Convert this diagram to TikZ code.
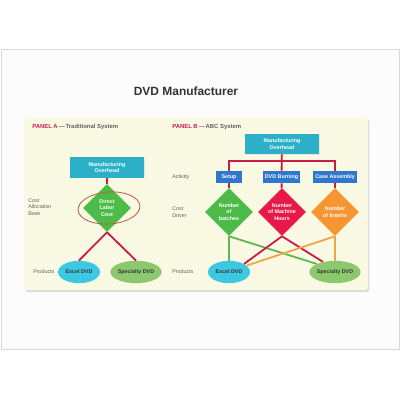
\documentclass[tikz,border=0pt]{standalone}
\usepackage{fontspec}
\setmainfont{Liberation Sans}
\usetikzlibrary{shapes}
\usetikzlibrary{shapes.geometric}
\usetikzlibrary{positioning}
\usetikzlibrary{shadows}
\definecolor{ohteal}{RGB}{44,176,200}
\definecolor{actblue}{RGB}{47,118,205}
\definecolor{dgreen}{RGB}{76,187,71}
\definecolor{dred}{RGB}{232,24,72}
\definecolor{dorange}{RGB}{245,150,50}
\definecolor{pcyan}{RGB}{60,200,225}
\definecolor{pgreen}{RGB}{140,200,110}
\definecolor{linered}{RGB}{200,30,70}
\definecolor{linegreen}{RGB}{95,185,80}
\definecolor{lineorange}{RGB}{240,165,75}
\definecolor{panelbg}{RGB}{250,250,228}
\definecolor{slidebg}{RGB}{252,252,252}
\definecolor{txtgray}{RGB}{95,95,95}
\definecolor{ringbrown}{RGB}{185,95,70}
\newcommand{\smallfont}{\fontsize{3.8}{4.6}\selectfont}
\tikzset{
    mybox/.style = {rectangle, fill=ohteal, text=white, align=center, inner sep=0pt, minimum width=1.85cm, minimum height=0.5cm, font=\smallfont\bfseries, drop shadow={opacity=0.15, shadow xshift=0.4pt, shadow yshift=-0.4pt}},
    myact/.style = {rectangle, fill=actblue, text=white, align=center, inner sep=0pt, minimum height=0.3cm, font=\smallfont\bfseries},
    mydiamg/.style = {diamond, aspect=1, fill=dgreen, text=white, align=center, inner sep=0pt, minimum size=1.2cm, font=\smallfont\bfseries},
    mydiamr/.style = {mydiamg, fill=dred},
    mydiamo/.style = {mydiamg, fill=dorange},
    myprodc/.style = {ellipse, fill=pcyan, text=black!80, inner sep=0pt, minimum width=1.05cm, minimum height=0.56cm, font=\smallfont\bfseries},
    myprodg/.style = {myprodc, fill=pgreen},
    mylabel/.style = {anchor=west, align=left, inner sep=0pt, text=txtgray, font=\smallfont},
    mypanel/.style = {anchor=west, inner sep=0pt, text=txtgray, font=\fontsize{4.2}{5}\selectfont\bfseries},
    edger/.style = {-, line width=1.3pt, linered},
    edgeg/.style = {-, line width=1.3pt, linegreen},
    edgeo/.style = {-, line width=1.3pt, lineorange},
}
\begin{document}
\begin{tikzpicture}[x=0.025cm,y=-0.025cm]
\path[use as bounding box] (0,0) rectangle (400,400);
% slide and panel
\draw[fill=slidebg, draw=black!15, line width=0.6pt] (1,49) rectangle (399,349);
\fill[panelbg, rounded corners=2pt, drop shadow={opacity=0.25, shadow xshift=1pt, shadow yshift=-1.5pt}] (24,117) rectangle (368,290);
\node[font=\fontsize{8.5}{10}\selectfont\bfseries, text=black!80] (title) at (186,91) {DVD Manufacturer};
\node[mypanel] (pa) at (32,127) {\textcolor{linered}{PANEL A}\,---\,Traditional System};
\node[mypanel] (pb) at (172,127) {\textcolor{linered}{PANEL B}\,---\,ABC System};
%
% panel A
\node[mybox] (moa) at (107,167.5) {Manufacturing\\Overhead};
\node[mydiamg] (dlc) at (107,208) {Direct\\Labor\\Cost};
\node[myprodc] (exa) at (79,272) {Excel DVD};
\node[myprodg] (spa) at (136,272) {Specialty DVD};
\node[mylabel] (cab) at (28,207) {Cost\\Allocation\\Base};
\node[mylabel] (pra) at (33,272) {Products};
%
\draw[edger] (moa) -- (dlc);
\draw[edger] (dlc.south) -- (exa.north);
\draw[edger] (dlc.south) -- (spa.north);
\draw[ringbrown, line width=0.6pt, rotate around={4:(109,208)}] (109,208) ellipse (31 and 16);
%
% panel B
\node[mybox] (mob) at (282,144) {Manufacturing\\Overhead};
\coordinate (bus) at (282,161);
\node[myact, minimum width=0.65cm] (setup) at (229,177) {Setup};
\node[myact, minimum width=0.925cm] (burn) at (281.5,177) {DVD Burning};
\node[myact, minimum width=1.1cm] (case) at (335,177) {Case Assembly};
\node[mydiamg] (nb) at (229,212) {Number\\of\\batches};
\node[mydiamr] (mh) at (282,212) {Number\\of Machine\\Hours};
\node[mydiamo] (ni) at (335,212) {Number\\of Inserts};
\node[myprodc] (exb) at (229,272) {Excel DVD};
\node[myprodg] (spb) at (335,272) {Specialty DVD};
\node[mylabel] (act) at (172,177) {Activity};
\node[mylabel] (cdr) at (172,212) {Cost\\Driver};
\node[mylabel] (prb) at (172,272) {Products};
%
\draw[edger] (setup.north) |- (bus) -| (case.north);
\draw[edger] (mob) -- (burn);
\draw[edger] (setup) -- (nb);
\draw[edger] (burn) -- (mh);
\draw[edger] (case) -- (ni);
\draw[edgeg] (nb.south) -- (exb.north);
\draw[edgeg] (nb.south) -- (spb.north west);
\draw[edger] (mh.south) -- (exb.north east);
\draw[edger] (mh.south) -- (spb.140);
\draw[edgeo] (ni.south) -- (spb.north);
\draw[edgeo] (ni.south) -- (exb.20);
\end{tikzpicture}
\end{document}
